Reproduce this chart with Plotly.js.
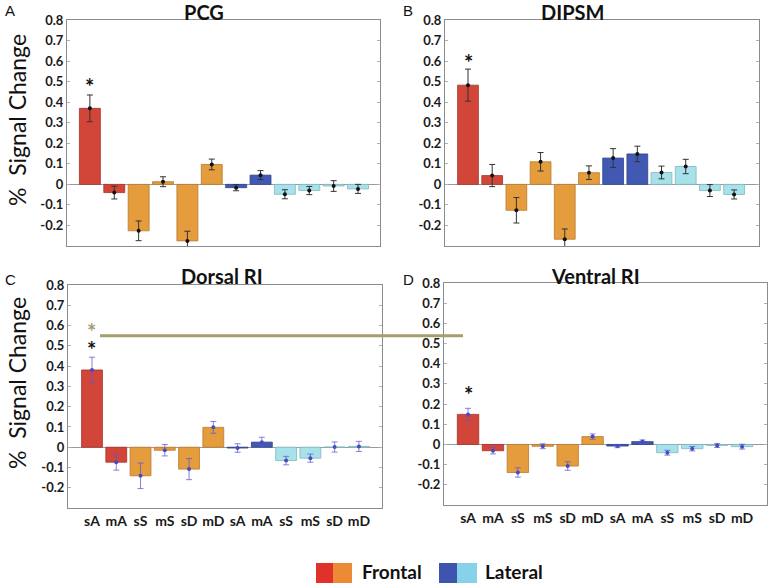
<!DOCTYPE html>
<html>
<head>
<meta charset="utf-8">
<script src="https://cdn.plot.ly/plotly-3.0.1.min.js"></script>
<style>html,body{margin:0;padding:0;background:#fff;}#chart{width:769px;height:583px;}</style>
</head>
<body>
<div id="chart"></div>
<script>
// ---- data ----
const categories = ["sA","mA","sS","mS","sD","mD","sA","mA","sS","mS","sD","mD"];
const groups = ["fA","fA","fO","fO","fO","fO","lA","lA","lO","lO","lO","lO"];
const panelTitles = ["PCG","DIPSM","Dorsal RI","Ventral RI"];
const panelLetters = ["A","B","C","D"];

const pcgMean = [0.370,-0.040,-0.226,0.013,-0.275,0.097,-0.016,0.045,-0.048,-0.030,-0.008,-0.022];
const pcgErr  = [0.065,0.031,0.048,0.024,0.047,0.026,0.015,0.022,0.022,0.020,0.026,0.022];

const dipsmMean = [0.483,0.043,-0.126,0.110,-0.267,0.057,0.128,0.148,0.058,0.087,-0.030,-0.049];
const dipsmErr  = [0.078,0.054,0.062,0.045,0.050,0.033,0.046,0.038,0.031,0.035,0.029,0.022];

const dorsalMean = [0.381,-0.074,-0.141,-0.015,-0.108,0.098,-0.004,0.025,-0.066,-0.054,0.001,0.004];
const dorsalErr  = [0.063,0.039,0.063,0.028,0.052,0.029,0.021,0.024,0.021,0.020,0.025,0.025];

const ventralMean = [0.149,-0.031,-0.139,-0.009,-0.107,0.039,-0.008,0.014,-0.041,-0.021,-0.005,-0.011];
const ventralErr  = [0.030,0.016,0.023,0.012,0.021,0.013,0.008,0.008,0.012,0.011,0.010,0.012];

const yTickVals = [-0.2,-0.1,0,0.1,0.2,0.3,0.4,0.5,0.6,0.7,0.8];
const yTickText = ["-0.2","-0.1","0","0.1","0.2","0.3","0.4","0.5","0.6","0.7","0.8"];

// significance stars: [panel index, bar index, y]
const starsBlack = [[0,0,0.475],[1,0,0.595],[2,0,0.48],[3,0,0.245]];
const starGold = [2,0,0.57];
const goldLineY = 0.55;

const legendLabels = ["Frontal","Lateral"];

// ---- styles ----
const groupColors = {fA:"#d2463a", fO:"#e59c3c", lA:"#4259b3", lO:"#a7e1ea"};
const lineColors = {fA:"#a53428", fO:"#b87a2e", lA:"#2f438c", lO:"#7fb8c2"};
const font = "Lato, 'Open Sans', sans-serif";
const errColorsDark = "#333333";
const errColorsBlue = "rgba(90,90,210,0.75)";

const xs = categories.map((c,i)=>i+1);
const panels = [
  {mean:pcgMean, err:pcgErr, xa:"x", ya:"y", ec:errColorsDark, mc:"#111"},
  {mean:dipsmMean, err:dipsmErr, xa:"x2", ya:"y2", ec:errColorsDark, mc:"#111"},
  {mean:dorsalMean, err:dorsalErr, xa:"x3", ya:"y3", ec:errColorsBlue, mc:"#4a4ac0"},
  {mean:ventralMean, err:ventralErr, xa:"x4", ya:"y4", ec:errColorsBlue, mc:"#4a4ac0"}
];

const traces = [];
panels.forEach(p=>{
  traces.push({
    type:"bar", x:xs, y:p.mean, xaxis:p.xa, yaxis:p.ya, width:0.86,
    marker:{color:groups.map(g=>groupColors[g]), line:{color:groups.map(g=>lineColors[g]), width:0.8}},
    hoverinfo:"skip", showlegend:false
  });
  traces.push({
    type:"scatter", mode:"markers", x:xs, y:p.mean, xaxis:p.xa, yaxis:p.ya,
    marker:{color:p.mc, size:4},
    error_y:{type:"data", array:p.err, visible:true, color:p.ec, thickness:1, width:3},
    hoverinfo:"skip", showlegend:false
  });
});

const domainsX = [[0.0871,0.4941],[0.5787,0.987],[0.0884,0.4967],[0.5774,0.9974]];
const domainsY = [[0.578,0.9657],[0.578,0.9657],[0.1286,0.5111],[0.1338,0.5146]];
const xRanges = [[0.06,12.9],[0.05,13.03],[0.01,12.95],[0.036,13.0]];

const layout = {
  width:769, height:583,
  margin:{l:0,r:0,t:0,b:0},
  paper_bgcolor:"#fff", plot_bgcolor:"#fff",
  showlegend:false, bargap:0,
  font:{family:font, color:"#1a1a1a"},
  annotations:[], shapes:[]
};
const axNames = ["","2","3","4"];
for(let i=0;i<4;i++){
  layout["xaxis"+axNames[i]] = {
    domain:domainsX[i], range:xRanges[i], anchor:"y"+axNames[i],
    showgrid:false, zeroline:false, showline:true, mirror:true, linecolor:"#8c8c8c", linewidth:1,
    tickvals:xs, ticktext:categories, showticklabels:i>=2, ticks:"",
    tickfont:{family:font, size:14, color:"#1a1a1a", weight:"bold"},
    fixedrange:true
  };
  layout["yaxis"+axNames[i]] = {
    domain:domainsY[i], range:[-0.3,0.8], anchor:"x"+axNames[i],
    showgrid:false, zeroline:true, zerolinecolor:"#9a9a9a", zerolinewidth:1,
    showline:true, mirror:"ticks", linecolor:"#8c8c8c", linewidth:1,
    ticks:"inside", ticklen:3, tickcolor:"#b0b0b0",
    tickvals:yTickVals, ticktext:yTickText,
    tickfont:{family:font, size:13, color:"#1a1a1a", weight:"bold"},
    fixedrange:true
  };
}

// panel titles
const titlePos = [[204,12],[572,12],[222,276],[595,276]];
panelTitles.forEach((t,i)=>{
  layout.annotations.push({text:t, xref:"paper", yref:"paper", x:titlePos[i][0]/769, y:1-titlePos[i][1]/583,
    showarrow:false, xanchor:"center", yanchor:"middle", font:{family:font, size:20, color:"#111", weight:"bold"}});
});
// panel letters
const letterPos = [[10,11],[408,11],[10,279],[408,280]];
panelLetters.forEach((t,i)=>{
  layout.annotations.push({text:t, xref:"paper", yref:"paper", x:letterPos[i][0]/769, y:1-letterPos[i][1]/583,
    showarrow:false, xanchor:"center", yanchor:"middle", font:{family:"'Liberation Sans', Arial, sans-serif", size:15, color:"#111"}});
});
// y-axis titles
[[17,120],[17,383]].forEach(p=>{
  layout.annotations.push({text:"%\u00a0\u00a0Signal Change", xref:"paper", yref:"paper", x:p[0]/769, y:1-p[1]/583,
    textangle:-90, showarrow:false, xanchor:"center", yanchor:"middle", font:{family:font, size:23, color:"#111"}});
});
// stars
starsBlack.forEach(s=>{
  const a = axNames[s[0]];
  layout.annotations.push({text:"*", xref:"x"+a, yref:"y"+a, x:xs[s[1]], y:s[2], showarrow:false,
    xanchor:"center", yanchor:"middle", font:{family:font, size:22, color:"#111", weight:"bold"}});
});
layout.annotations.push({text:"*", xref:"x3", yref:"y3", x:xs[starGold[1]], y:starGold[2], showarrow:false,
  xanchor:"center", yanchor:"middle", font:{family:font, size:22, color:"#a39c6a", weight:"bold"}});
// gold line across C into D
layout.shapes.push({type:"line", xref:"paper", yref:"y3", x0:100/769, x1:463/769, y0:goldLineY, y1:goldLineY,
  line:{color:"#a59f6b", width:3}});

// legend
const legRects = [[316,333,"fA"],[333,352,"fO"],[439,457,"lA"],[457,477,"lO"]];
legRects.forEach(r=>{
  layout.shapes.push({type:"rect", xref:"paper", yref:"paper", x0:r[0]/769, x1:r[1]/769, y0:0, y1:(583-563)/583,
    fillcolor:r[2]==="fA"?"#e0312a":r[2]==="fO"?"#ec8a35":r[2]==="lA"?"#3e55b0":"#86d2ea", line:{width:0}});
});
[[360,legendLabels[0]],[483,legendLabels[1]]].forEach(p=>{
  layout.annotations.push({text:p[1], xref:"paper", yref:"paper", x:p[0]/769, y:(583-571)/583, showarrow:false,
    xanchor:"left", yanchor:"middle", font:{family:font, size:19, color:"#111", weight:"bold"}});
});

Plotly.newPlot("chart", traces, layout, {staticPlot:true, displayModeBar:false});
</script>
</body>
</html>
